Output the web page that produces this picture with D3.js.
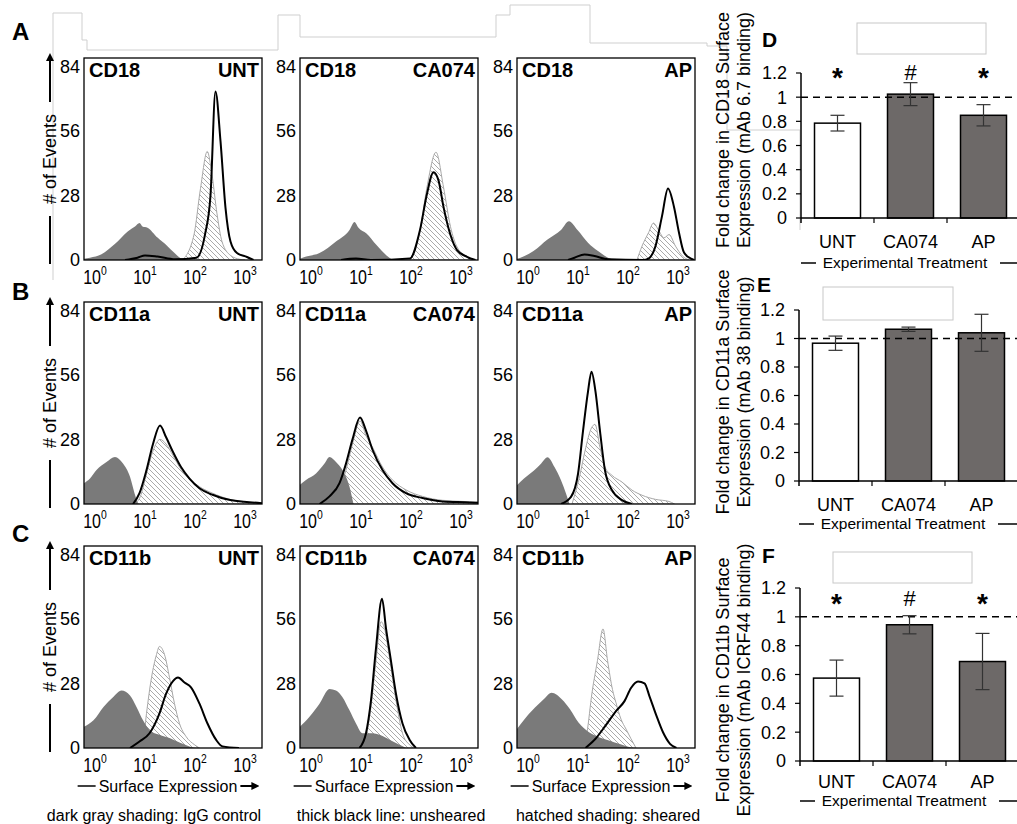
<!DOCTYPE html>
<html><head><meta charset="utf-8">
<script src="https://cdn.jsdelivr.net/npm/d3@7"></script>
<style>body{margin:0;background:#fff}svg{display:block;font-family:"Liberation Sans",Arial,sans-serif}</style>
</head><body><svg id="c" width="1017" height="824"></svg>
<script>
// ---------- histogram data: [log10 fluorescence, # of events] ----------
const CD18_UNT_igg = [[-0.22,0.5],[-0.1,1],[0.13,2.5],[0.39,6.8],[0.66,12.5],[0.8,14.5],[0.89,16],[0.95,14.5],[1.05,14],[1.25,9.7],[1.45,6],[1.58,3.2],[1.72,0.7],[1.85,0]];
const CD18_UNT_sheared = [[1.75,0],[1.98,11],[2.11,31],[2.245,47],[2.34,37],[2.44,20],[2.54,8],[2.71,2],[2.9,0.3],[3.0,0]];
const CD18_UNT_unsheared = [[0.6,0],[0.85,1],[1.0,2],[1.25,1.5],[1.6,0.3],[2.03,1],[2.2,11],[2.31,28],[2.41,73],[2.51,51.5],[2.61,22.6],[2.71,8],[2.84,3],[3.04,1.3],[3.17,0]];
const CD18_CA074_igg = [[-0.22,0.5],[-0.17,1],[0.17,3],[0.5,8],[0.77,13],[0.87,16.5],[0.95,14],[1.11,11.5],[1.31,6.5],[1.51,2],[1.64,0]];
const CD18_CA074_sheared = [[1.98,0],[2.18,13],[2.32,31.6],[2.5,46.7],[2.65,31.6],[2.79,14.4],[2.92,5.7],[3.12,1.4],[3.26,0]];
const CD18_CA074_unsheared = [[0.6,0],[0.9,0.6],[1.2,0],[1.98,0.7],[2.18,13],[2.32,28.7],[2.45,38],[2.55,34.5],[2.65,23],[2.79,10.8],[2.92,4.3],[3.12,1.4],[3.29,0]];
const CD18_AP_igg = [[-0.22,0.5],[-0.15,1],[0.11,3.9],[0.39,8.9],[0.66,13],[0.82,16.8],[0.99,13],[1.2,7.5],[1.4,3.9],[1.6,1],[1.74,0]];
const CD18_AP_sheared = [[2.18,0],[2.28,6],[2.41,11.8],[2.51,16],[2.61,13],[2.72,9.6],[2.82,11],[2.95,6],[3.09,1.7],[3.22,0]];
const CD18_AP_unsheared = [[0.8,0],[0.93,1],[1.13,2.4],[1.33,1.7],[1.6,0.3],[2.3,0],[2.41,0.6],[2.55,6],[2.68,19],[2.8,31],[2.92,23],[3.02,11.8],[3.12,3.2],[3.26,0.6],[3.32,0]];

const CD11a_UNT_igg = [[-0.22,9],[-0.1,11],[0.03,14.7],[0.23,18.2],[0.4,20.4],[0.56,17.5],[0.7,11.8],[0.79,4.7],[0.86,0]];
const CD11a_UNT_sheared = [[0.8,0],[0.92,4],[1.03,13],[1.16,23],[1.3,28],[1.42,26],[1.56,21],[1.72,15],[1.89,11],[2.09,7.5],[2.35,4.7],[2.68,2.1],[3.08,0.8],[3.34,0.3]];
const CD11a_UNT_unsheared = [[0.76,0],[0.89,4.7],[1.03,14.7],[1.16,26],[1.3,34],[1.42,29],[1.56,22.5],[1.72,16],[1.89,11],[2.09,6.8],[2.35,4],[2.68,1.8],[3.08,0.8],[3.34,0.3]];
const CD11a_CA074_igg = [[-0.22,8.3],[-0.1,10.4],[0.1,13.2],[0.27,17.5],[0.37,20.4],[0.5,18.2],[0.63,14.7],[0.77,7.5],[0.85,0]];
const CD11a_CA074_sheared = [[0.45,0],[0.57,6],[0.7,14.7],[0.83,26],[0.98,36],[1.1,29.6],[1.23,24.6],[1.43,16],[1.63,10.4],[1.9,6.1],[2.23,3.3],[2.63,1.6],[3.17,1],[3.34,0.8]];
const CD11a_CA074_unsheared = [[0.17,0],[0.37,3.3],[0.57,9],[0.7,17.5],[0.83,28],[0.98,37.5],[1.1,31.8],[1.23,23.5],[1.43,14.7],[1.63,9],[1.9,4.7],[2.23,2.6],[2.63,1.1],[3.17,0.7],[3.34,0.5]];
const CD11a_AP_igg = [[-0.22,8.1],[-0.08,11],[0.12,14.5],[0.26,17.4],[0.39,20.2],[0.53,16],[0.66,10.3],[0.76,4.6],[0.83,0]];
const CD11a_AP_sheared = [[0.88,0],[1.03,11.7],[1.14,23],[1.27,33],[1.34,34.5],[1.44,24.5],[1.54,16],[1.68,12.4],[1.88,9.5],[2.08,6],[2.28,3.8],[2.55,2],[2.82,1.1],[2.93,0]];
const CD11a_AP_unsheared = [[0.66,0],[0.86,3.1],[1.0,13],[1.1,31.6],[1.2,48.7],[1.27,57.3],[1.35,48.7],[1.44,31.6],[1.54,14.5],[1.68,6],[1.88,1.7],[2.08,0]];

const CD11b_UNT_igg = [[-0.22,9.2],[-0.03,12],[0.17,17.8],[0.36,22],[0.53,24.9],[0.7,22.7],[0.83,17.8],[0.96,12],[1.09,7.8],[1.29,5.7],[1.49,4.3],[1.69,2.4],[1.89,0.7],[2.02,0]];
const CD11b_UNT_sheared = [[0.9,0],[0.96,2],[1.03,15],[1.13,30.5],[1.23,40.5],[1.29,44],[1.39,40.5],[1.49,30.5],[1.59,19.2],[1.69,10.6],[1.82,5],[1.99,1.4],[2.09,0]];
const CD11b_UNT_unsheared = [[0.7,0],[0.89,2.8],[1.09,6.4],[1.29,15],[1.42,23.4],[1.56,29],[1.66,30.5],[1.79,28.4],[1.92,26.3],[2.09,19.2],[2.25,10.6],[2.42,3.6],[2.55,0.7],[2.88,0]];
const CD11b_CA074_igg = [[-0.22,9.2],[-0.03,13.5],[0.17,19.2],[0.37,25.6],[0.5,24.9],[0.63,22],[0.77,16.3],[0.9,10.6],[1.03,6.4],[1.23,6.4],[1.37,5.7],[1.57,3.6],[1.77,1.4],[1.9,0]];
const CD11b_CA074_sheared = [[1.0,0],[1.1,5],[1.2,17.8],[1.3,37.6],[1.4,54.7],[1.47,51.8],[1.57,39],[1.7,20.6],[1.83,6.4],[1.97,1.4],[2.07,0]];
const CD11b_CA074_unsheared = [[0.97,0],[1.1,6.4],[1.2,20.6],[1.3,43.3],[1.42,64.6],[1.5,51.8],[1.6,37.6],[1.7,23.4],[1.83,10.6],[1.97,3.6],[2.1,0]];
const CD11b_AP_igg = [[-0.22,8.2],[-0.07,12.5],[0.14,17.5],[0.34,21.7],[0.47,23.9],[0.68,21],[0.84,16.8],[1.01,11],[1.22,6.8],[1.42,4.7],[1.62,3.3],[1.82,1.8],[2.09,0]];
const CD11b_AP_sheared = [[1.11,0],[1.18,6.8],[1.28,23.9],[1.39,38],[1.5,51.6],[1.59,38],[1.69,25.3],[1.76,19.6],[1.86,12.5],[1.96,8.2],[2.06,4],[2.16,0]];
const CD11b_AP_unsheared = [[1.15,0],[1.35,4],[1.55,9.7],[1.76,16],[1.93,20.3],[2.06,26],[2.2,28.8],[2.33,28],[2.43,22.4],[2.57,13.9],[2.7,6.8],[2.84,1.8],[2.97,0]];

const markerNames = ["CD18","CD11a","CD11b"];
const treatments = ["UNT","CA074","AP"];
const panelLetters = ["A","B","C"];
const histYTicks = [0,28,56,84];
const histXDecades = [0,1,2,3];
const legendTexts = ["dark gray shading: IgG control","thick black line: unsheared","hatched shading: sheared"];

// ---------- bar chart data ----------
const barCategories = ["UNT","CA074","AP"];
const cd18Fold = [0.785,1.025,0.85];
const cd18Err = [0.065,0.095,0.088];
const cd18Marks = ["*","#","*"];
const cd11aFold = [0.967,1.065,1.04];
const cd11aErr = [0.05,0.015,0.13];
const cd11aMarks = ["","",""];
const cd11bFold = [0.575,0.945,0.69];
const cd11bErr = [0.125,0.063,0.195];
const cd11bMarks = ["*","#","*"];
const barYTicks = [0,0.2,0.4,0.6,0.8,1,1.2];
const barYTickLabels = ["0","0.2","0.4","0.6","0.8","1","1.2"];
const barTitles1 = ["Fold change in CD18 Surface","Fold change in CD11a Surface","Fold change in CD11b Surface"];
const barTitles2 = ["Expression (mAb 6.7 binding)","Expression (mAb 38 binding)","Expression (mAb ICRF44 binding)"];
const barLetters = ["D","E","F"];

// ---------- drawing ----------
const svg = d3.select("#c");
const defs = svg.append("defs");
defs.append("pattern").attr("id","hatch").attr("patternUnits","userSpaceOnUse")
  .attr("width",5).attr("height",5)
  .append("path").attr("d","M-1,-1L6,6M-1,4L1,6M4,-1L6,1")
  .attr("stroke","#a0a0a0").attr("stroke-width",0.9).attr("fill","none");
defs.append("marker").attr("id","arrUp").attr("viewBox","0 0 10 10").attr("refX",5).attr("refY",5)
  .attr("markerWidth",4).attr("markerHeight",4).attr("orient","auto")
  .append("path").attr("d","M0,0L10,5L0,10Z").attr("fill","#000");

// faint layout guide lines seen in the source figure
svg.append("path").attr("d","M53,280V13H82V40H87V50H278V15H300V37H496V15H510V5H590V43H707V46H727V130H800V230")
  .attr("fill","none").attr("stroke","#cfcfcf").attr("stroke-width",1);

const hist = [
  [[CD18_UNT_igg,CD18_UNT_sheared,CD18_UNT_unsheared],[CD18_CA074_igg,CD18_CA074_sheared,CD18_CA074_unsheared],[CD18_AP_igg,CD18_AP_sheared,CD18_AP_unsheared]],
  [[CD11a_UNT_igg,CD11a_UNT_sheared,CD11a_UNT_unsheared],[CD11a_CA074_igg,CD11a_CA074_sheared,CD11a_CA074_unsheared],[CD11a_AP_igg,CD11a_AP_sheared,CD11a_AP_unsheared]],
  [[CD11b_UNT_igg,CD11b_UNT_sheared,CD11b_UNT_unsheared],[CD11b_CA074_igg,CD11b_CA074_sheared,CD11b_CA074_unsheared],[CD11b_AP_igg,CD11b_AP_sheared,CD11b_AP_unsheared]]
];

const colX = [84,300,517], rowY = [58,302,546], boxW = 178, boxH = 202;
const legendX = [154,391,608];
const letterY = [40,300,542];

hist.forEach((row, r) => {
  const T = rowY[r], B = T + boxH;
  svg.append("text").attr("x",12).attr("y",letterY[r]).attr("font-size",24).attr("font-weight","bold").text(panelLetters[r]);
  const yc = (T + B) / 2;
  svg.append("line").attr("x1",50).attr("x2",50).attr("y1",B+4).attr("y2",B-44).attr("stroke","#000").attr("stroke-width",2);
  svg.append("text").attr("transform",`translate(56,${yc}) rotate(-90)`).attr("text-anchor","middle")
    .attr("font-size",18).text("# of Events");
  svg.append("line").attr("x1",50).attr("x2",50).attr("y1",yc-57).attr("y2",T-1).attr("stroke","#000").attr("stroke-width",2)
    .attr("marker-end","url(#arrUp)");

  row.forEach((curves, c) => {
    const L = colX[c];
    const x = d3.scaleLinear().domain([-0.22,3.34]).range([L, L+boxW]);
    const y = d3.scaleLinear().domain([0,87.5]).range([B, T]);
    const cid = `clip${r}${c}`;
    defs.append("clipPath").attr("id",cid).append("rect").attr("x",L).attr("y",T).attr("width",boxW).attr("height",boxH);
    const g = svg.append("g").attr("clip-path",`url(#${cid})`);
    const area = d3.area().x(d=>x(d[0])).y0(y(0)).y1(d=>y(d[1])).curve(d3.curveMonotoneX);
    const line = d3.line().x(d=>x(d[0])).y(d=>y(d[1])).curve(d3.curveMonotoneX);
    const [igg, sh, un] = curves;
    g.append("path").attr("d",area(sh)).attr("fill","url(#hatch)").attr("stroke","#a8a8a8").attr("stroke-width",1);
    g.append("path").attr("d",area(igg)).attr("fill","#7a7a7a");
    g.append("path").attr("d",line(un)).attr("fill","none").attr("stroke","#000").attr("stroke-width",2).attr("stroke-linejoin","round");
    svg.append("rect").attr("x",L).attr("y",T).attr("width",boxW).attr("height",boxH).attr("fill","none").attr("stroke","#000").attr("stroke-width",1.3);
    svg.append("text").attr("x",L+5).attr("y",T+19).attr("font-size",20).attr("font-weight","bold").text(markerNames[r]);
    svg.append("text").attr("x",L+boxW-3).attr("y",T+19).attr("text-anchor","end").attr("font-size",20).attr("font-weight","bold").text(treatments[c]);
    histYTicks.forEach(v => {
      svg.append("text").attr("x",L-4).attr("y",y(v)).attr("dy","0.36em").attr("text-anchor","end").attr("font-size",18).text(v);
    });
    histXDecades.forEach(n => {
      const t = svg.append("text").attr("transform",`translate(${x(n)},${B+24}) scale(0.8,1)`).attr("text-anchor","middle").attr("font-size",20);
      t.append("tspan").text("10");
      t.append("tspan").attr("font-size",13).attr("dy",-9).text(n);
    });
    if (r === 2) {
      const cx = L + boxW/2 - 5;
      const st = svg.append("text").attr("x",cx).attr("y",792).attr("text-anchor","middle").attr("font-size",16).text("Surface Expression");
      const w = st.node().getComputedTextLength();
      svg.append("line").attr("x1",cx-w/2-21).attr("x2",cx-w/2-3).attr("y1",786).attr("y2",786).attr("stroke","#000").attr("stroke-width",1.5);
      svg.append("line").attr("x1",cx+w/2+3).attr("x2",cx+w/2+18).attr("y1",786).attr("y2",786).attr("stroke","#000").attr("stroke-width",2)
        .attr("marker-end","url(#arrUp)");
      svg.append("text").attr("x",legendX[c]).attr("y",821).attr("text-anchor","middle").attr("font-size",16).text(legendTexts[c]);
    }
  });
});

// ---------- bar charts ----------
const barSets = [
  {vals:cd18Fold, err:cd18Err, marks:cd18Marks, markY:1.21, top:73, bottom:218, axisX:801, titleY:130, letterX:762, letterY:47, box:[857,23,129,31], xtY:263, catDy:30},
  {vals:cd11aFold, err:cd11aErr, marks:cd11aMarks, markY:1.2, top:310, bottom:481, axisX:799, titleY:392, letterX:757, letterY:292, box:[823,287,130,33], xtY:524, catDy:30},
  {vals:cd11bFold, err:cd11bErr, marks:cd11bMarks, markY:1.13, top:588, bottom:761, axisX:800, titleY:680, letterX:762, letterY:563, box:[833,552,139,31], xtY:801, catDy:27}
];
const barFill = ["#ffffff","#6d6968","#6d6968"];

barSets.forEach((s, i) => {
  const x = d3.scaleBand().domain(barCategories).range([s.axisX, s.axisX+219]).paddingInner(0.37).paddingOuter(0.185);
  const y = d3.scaleLinear().domain([0,1.2]).range([s.bottom, s.top]);
  svg.append("rect").attr("x",s.box[0]).attr("y",s.box[1]).attr("width",s.box[2]).attr("height",s.box[3]).attr("fill","none").attr("stroke","#c8c8c8").attr("stroke-width",1);
  svg.append("text").attr("x",s.letterX).attr("y",s.letterY).attr("font-size",21).attr("font-weight","bold").text(barLetters[i]);
  barCategories.forEach((cat, k) => {
    svg.append("rect").attr("x",x(cat)).attr("y",y(s.vals[k])).attr("width",x.bandwidth()).attr("height",y(0)-y(s.vals[k]))
      .attr("fill",barFill[k]).attr("stroke","#000").attr("stroke-width",1.5);
  });
  svg.append("line").attr("x1",s.axisX).attr("x2",1017).attr("y1",y(1)).attr("y2",y(1)).attr("stroke","#000").attr("stroke-width",1.5).attr("stroke-dasharray","7,5");
  barCategories.forEach((cat, k) => {
    const cx = x(cat) + x.bandwidth()/2;
    const hi = y(s.vals[k]+s.err[k]), lo = y(s.vals[k]-s.err[k]);
    const eg = svg.append("g").attr("stroke","#333").attr("stroke-width",1.2);
    eg.append("line").attr("x1",cx).attr("x2",cx).attr("y1",hi).attr("y2",lo);
    eg.append("line").attr("x1",cx-7).attr("x2",cx+7).attr("y1",hi).attr("y2",hi);
    eg.append("line").attr("x1",cx-7).attr("x2",cx+7).attr("y1",lo).attr("y2",lo);
    const m = s.marks[k];
    if (m === "*") svg.append("text").attr("x",cx).attr("y",y(s.markY)+15).attr("text-anchor","middle").attr("font-size",28).attr("font-weight","bold").text(m);
    else if (m === "#") svg.append("text").attr("x",cx).attr("y",y(s.markY)+8).attr("text-anchor","middle").attr("font-size",22).text(m);
  });
  svg.append("line").attr("x1",s.axisX).attr("x2",s.axisX).attr("y1",y(1.2)).attr("y2",y(0)+5).attr("stroke","#000").attr("stroke-width",1.5);
  svg.append("line").attr("x1",s.axisX).attr("x2",1017).attr("y1",y(0)).attr("y2",y(0)).attr("stroke","#000").attr("stroke-width",1.5);
  barYTicks.forEach((v, k) => {
    svg.append("line").attr("x1",s.axisX-5).attr("x2",s.axisX).attr("y1",y(v)).attr("y2",y(v)).attr("stroke","#000").attr("stroke-width",1.2);
    svg.append("text").attr("x",s.axisX-14).attr("y",y(v)).attr("dy","0.36em").attr("text-anchor","end").attr("font-size",18).text(barYTickLabels[k]);
  });
  barCategories.forEach((cat, k) => {
    const bx = x(cat) + x.bandwidth() + x.step()*0.37*0.5;
    svg.append("line").attr("x1",bx).attr("x2",bx).attr("y1",y(0)).attr("y2",y(0)+5).attr("stroke","#000").attr("stroke-width",1.2);
    svg.append("text").attr("x",x(cat)+x.bandwidth()/2).attr("y",y(0)+s.catDy).attr("text-anchor","middle").attr("font-size",18).text(cat);
  });
  svg.append("text").attr("x",s.axisX+104).attr("y",s.xtY+5).attr("text-anchor","middle").attr("font-size",15.5).text("Experimental Treatment");
  svg.append("line").attr("x1",s.axisX).attr("x2",s.axisX+15).attr("y1",s.xtY).attr("y2",s.xtY).attr("stroke","#000").attr("stroke-width",1.5);
  svg.append("line").attr("x1",s.axisX+199).attr("x2",1017).attr("y1",s.xtY).attr("y2",s.xtY).attr("stroke","#000").attr("stroke-width",1.5);
  svg.append("text").attr("transform",`translate(729,${s.titleY}) rotate(-90)`).attr("text-anchor","middle").attr("font-size",18).text(barTitles1[i]);
  svg.append("text").attr("transform",`translate(750,${s.titleY}) rotate(-90)`).attr("text-anchor","middle").attr("font-size",18).text(barTitles2[i]);
});
</script></body></html>
